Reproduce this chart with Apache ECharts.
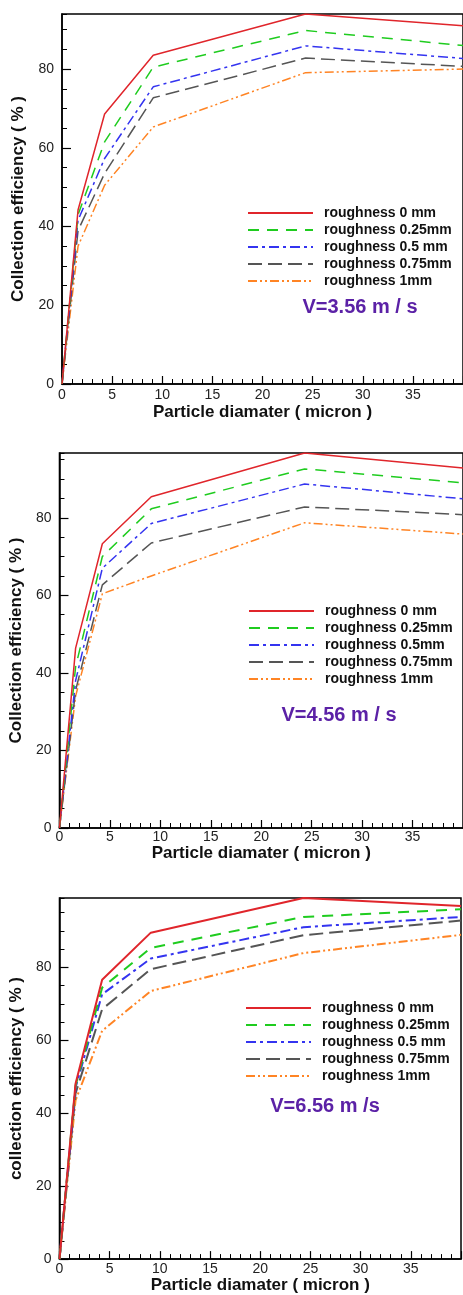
<!DOCTYPE html>
<html>
<head>
<meta charset="utf-8">
<script src="https://cdn.jsdelivr.net/npm/echarts@6/dist/echarts.min.js"></script>
<style>
  html, body { margin: 0; padding: 0; background: #fff; overflow: hidden; }
  #chart { width: 463px; height: 1295px; }
</style>
</head>
<body>
<div id="chart"></div>
<script>
// Particle diameters (micron) where collection efficiency was computed
const diameters = [0, 1.6, 4.25, 9.1, 24.3, 40];

// Collection efficiency (%) at V = 3.56 m/s
const eff356_r0   = [0, 44.2, 68.6, 83.5, 94.0, 91.0];
const eff356_r025 = [0, 43.0, 61.5, 80.5, 89.8, 86.0];
const eff356_r05  = [0, 41.6, 57.3, 75.5, 85.9, 82.7];
const eff356_r075 = [0, 39.0, 53.5, 72.7, 82.8, 80.7];
const eff356_r1   = [0, 35.0, 50.5, 65.3, 79.1, 80.0];

// Collection efficiency (%) at V = 4.56 m/s
const eff456_r0   = [0, 46.4, 73.3, 85.4, 96.7, 92.8];
const eff456_r025 = [0, 41.6, 70.0, 82.3, 92.6, 89.0];
const eff456_r05  = [0, 38.0, 67.0, 78.5, 88.7, 84.9];
const eff456_r075 = [0, 35.5, 62.7, 73.5, 82.8, 80.8];
const eff456_r1   = [0, 34.0, 60.4, 65.0, 78.7, 75.8];

// Collection efficiency (%) at V = 6.56 m/s
const eff656_r0   = [0, 48.1, 76.6, 89.5, 99.0, 96.8];
const eff656_r025 = [0, 47.5, 74.4, 85.3, 93.8, 95.9];
const eff656_r05  = [0, 47.0, 72.6, 82.4, 91.0, 93.8];
const eff656_r075 = [0, 45.4, 68.5, 79.5, 88.8, 92.8];
const eff656_r1   = [0, 43.5, 62.6, 73.5, 83.9, 88.9];

// Legend labels per panel
const names356 = ['roughness 0 mm', 'roughness 0.25mm', 'roughness 0.5 mm', 'roughness 0.75mm', 'roughness 1mm'];
const names456 = ['roughness 0 mm', 'roughness 0.25mm', 'roughness 0.5mm', 'roughness 0.75mm', 'roughness 1mm'];
const names656 = ['roughness 0 mm', 'roughness 0.25mm', 'roughness 0.5 mm', 'roughness 0.75mm', 'roughness 1mm'];

// Axis titles and velocity captions
const xTitle = 'Particle diamater ( micron )';
const yTitles = ['Collection efficiency ( % )', 'Collection efficiency ( % )', 'collection efficiency ( % )'];
const velocityLabels = ['V=3.56 m / s', 'V=4.56 m / s', 'V=6.56 m /s'];
const xTickValues = [0, 5, 10, 15, 20, 25, 30, 35];
const yTickValues = [0, 20, 40, 60, 80];

const FONT = '"Liberation Sans", Arial, sans-serif';

// Line appearance per roughness level
const lineStyles = [
  { color: '#e0252b', type: 'solid' },
  { color: '#1fcc1f', type: [11, 8] },
  { color: '#3434f0', type: [10, 4, 3, 4] },
  { color: '#555555', type: [14, 6] },
  { color: '#ff8424', type: [9, 3, 2, 3, 2, 3] }
];

const panels = [
  { grid: { left: 62, top: 14, width: 407, height: 370 }, yMax: 94.0, lw: 1.5,
    values: [eff356_r0, eff356_r025, eff356_r05, eff356_r075, eff356_r1], names: names356,
    legend: { left: 247, top: 206 }, caption: { x: 360, y: 307 }, yNameGap: 35, xNameGap: 20, xLabelMargin: 4 },
  { grid: { left: 55, top: 453, width: 411, height: 375 }, yMax: 96.7, lw: 1.5,
    values: [eff456_r0, eff456_r025, eff456_r05, eff456_r075, eff456_r1], names: names456,
    legend: { left: 248, top: 604 }, caption: { x: 339, y: 715 }, yNameGap: 28, xNameGap: 15, xLabelMargin: 2 },
  { grid: { left: 59, top: 898, width: 402, height: 364 }, yMax: 99.0, lw: 2,
    values: [eff656_r0, eff656_r025, eff656_r05, eff656_r075, eff656_r1], names: names656,
    legend: { left: 245, top: 1001 }, caption: { x: 325, y: 1106 }, yNameGap: 31, xNameGap: 15, xLabelMargin: 3 }
];

const grid = [], xAxis = [], yAxis = [], series = [], legend = [], graphic = [];

panels.forEach((p, i) => {
  grid.push(Object.assign({ show: true, borderColor: '#000', borderWidth: 1.5, backgroundColor: '#fff' }, p.grid));

  xAxis.push({
    type: 'value', gridIndex: i, min: 0, max: 40, interval: 5,
    name: xTitle, nameLocation: 'middle', nameGap: p.xNameGap,
    nameTextStyle: { fontFamily: FONT, fontSize: 17, fontWeight: 'bold', color: '#111' },
    axisLine: { show: true, lineStyle: { color: '#000', width: 1.5 } },
    axisTick: { show: true, inside: true, length: 8, lineStyle: { color: '#000', width: 1.2 } },
    minorTick: { show: true, splitNumber: 5, length: 5, lineStyle: { color: '#000', width: 1 } },
    axisLabel: {
      fontFamily: FONT, fontSize: 14, color: '#222', margin: p.xLabelMargin,
      showMaxLabel: false,
      formatter: v => (xTickValues.indexOf(v) >= 0 ? String(v) : '')
    },
    splitLine: { show: false }
  });

  // main y axis: labels and long ticks every 20
  yAxis.push({
    type: 'value', gridIndex: i, min: 0, max: p.yMax, interval: 20,
    name: yTitles[i], nameLocation: 'middle', nameGap: p.yNameGap,
    nameTextStyle: { fontFamily: FONT, fontSize: 17, fontWeight: 'bold', color: '#111' },
    axisLine: { show: true, lineStyle: { color: '#000', width: 1.5 } },
    axisTick: { show: true, inside: true, length: 9, lineStyle: { color: '#000', width: 1.2 } },
    axisLabel: {
      fontFamily: FONT, fontSize: 14, color: '#222', margin: 8,
      showMaxLabel: false,
      formatter: v => (yTickValues.indexOf(v) >= 0 ? String(v) : '')
    },
    splitLine: { show: false }
  });
  // companion y axis: short ticks every 5
  yAxis.push({
    type: 'value', gridIndex: i, min: 0, max: p.yMax, interval: 5, position: 'left',
    axisLine: { show: false },
    axisTick: { show: true, inside: true, length: 5, lineStyle: { color: '#000', width: 1 } },
    axisLabel: { show: false },
    splitLine: { show: false }
  });

  p.values.forEach((vals, k) => {
    series.push({
      type: 'line', name: p.names[k], xAxisIndex: i, yAxisIndex: i * 2,
      data: diameters.map((d, j) => [d, vals[j]]),
      symbol: 'none', z: 10 - k,
      lineStyle: { color: lineStyles[k].color, width: p.lw, type: lineStyles[k].type },
      itemStyle: { color: lineStyles[k].color }
    });
  });

  legend.push({
    orient: 'vertical', left: p.legend.left, top: p.legend.top, padding: 0,
    data: p.names, itemWidth: 65, itemHeight: 14, itemGap: 3,
    selectedMode: false,
    itemStyle: { opacity: 0 },
    textStyle: { fontFamily: FONT, fontSize: 14, fontWeight: 'bold', color: '#111', padding: [0, 0, 0, 6] }
  });

  graphic.push({
    type: 'text', x: p.caption.x, y: p.caption.y, z: 100,
    style: {
      text: velocityLabels[i], fill: '#5b21a6', font: 'bold 20px ' + FONT,
      textAlign: 'center', textVerticalAlign: 'middle'
    }
  });
});

const chart = echarts.init(document.getElementById('chart'), null, { renderer: 'canvas' });
chart.setOption({
  animation: false,
  backgroundColor: '#fff',
  grid, xAxis, yAxis, series, legend, graphic
});
</script>
</body>
</html>
